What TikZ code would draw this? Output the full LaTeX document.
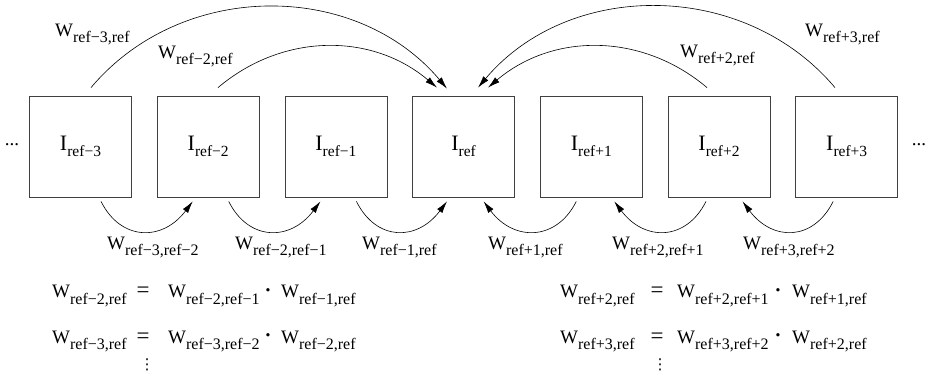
\documentclass[tikz,border=0pt]{standalone}
\usepackage{fontspec}
\setmainfont{Liberation Serif}
\newfontfamily\symfont{DejaVu Sans}
\usetikzlibrary{arrows.meta,calc}

% weight and image symbols with lowered subscripts
\newcommand\Wt[1]{W\raisebox{-6pt}{\fontsize{16}{16}\selectfont #1}}
\newcommand\It[1]{I\raisebox{-5.5pt}{\fontsize{15.5}{16}\selectfont #1}}

\begin{document}
\begin{tikzpicture}[x=1pt,y=-1pt,
  frame/.style={draw=black!75, line width=0.8pt, minimum width=102pt,
    minimum height=101pt, inner sep=0pt, font=\fontsize{22}{24}\selectfont},
  lbl/.style={inner sep=0pt, anchor=base west, font=\fontsize{19}{22}\selectfont},
  sym/.style={inner sep=0pt, anchor=base, font=\fontsize{19}{22}\selectfont},
  eqsign/.style={inner sep=0pt, anchor=base, font=\fontsize{23}{24}\selectfont},
  times/.style={inner sep=0pt, anchor=base, font=\fontsize{28}{28}\selectfont},
  cont/.style={inner sep=0pt, font=\symfont\fontsize{15}{15}\selectfont},
  link/.style={draw, line width=0.6pt, -{Latex[length=12pt,width=6.5pt]}}]

\useasboundingbox (0,0) rectangle (930,377);

% image frames
\node[frame] (b1) at (80.5,146.5)  {\It{ref−3}};
\node[frame] (b2) at (208.2,146.5) {\It{ref−2}};
\node[frame] (b3) at (335.9,146.5) {\It{ref−1}};
\node[frame] (b4) at (463.6,146.5) {\It{ref}};
\node[frame] (b5) at (591.3,146.5) {\It{ref+1}};
\node[frame] (b6) at (719,146.5)   {\It{ref+2}};
\node[frame] (b7) at (846.7,146.5) {\It{ref+3}};

\node[sym] (dl) at (12,146)  {...};
\node[sym] (dr) at (919,146) {...};

% long-range links to the reference frame
\draw[link] ($(b1.north)+(10.5,-8)$) .. controls +(91,-108) and +(-91,-108) .. ($(b4.north)+(-16.6,-7)$);
\draw[link] ($(b2.north)+(9.8,-8)$) .. controls +(65,-55) and +(-65,-55) .. ($(b4.north)+(-26.6,-8)$);
\draw[link] ($(b7.north)+(-11.7,-8)$) .. controls +(-91,-108) and +(91,-108) .. ($(b4.north)+(14.4,-8)$);
\draw[link] ($(b6.north)+(-12,-8)$) .. controls +(-65,-55) and +(65,-55) .. ($(b4.north)+(24.4,-8)$);

\node[lbl] (t1) at (55,37)  {\Wt{ref−3,ref}};
\node[lbl] (t2) at (158,59) {\Wt{ref−2,ref}};
\node[lbl] (t3) at (680,58) {\Wt{ref+2,ref}};
\node[lbl] (t4) at (805,37) {\Wt{ref+3,ref}};

% neighbour links
\draw[link] ($(b1.south)+(20.5,4)$) .. controls +(20,40) and +(-30,40) .. ($(b2.south)+(-15.5,4)$);
\draw[link] ($(b2.south)+(20.5,4)$) .. controls +(20,40) and +(-30,40) .. ($(b3.south)+(-15.5,4)$);
\draw[link] ($(b3.south)+(20.5,4)$) .. controls +(20,40) and +(-30,40) .. ($(b4.south)+(-16.6,4)$);
\draw[link] ($(b5.south)+(-15,4)$) .. controls +(-20,40) and +(30,40) .. ($(b4.south)+(20,4)$);
\draw[link] ($(b6.south)+(-13,4)$) .. controls +(-20,40) and +(30,40) .. ($(b5.south)+(23,4)$);
\draw[link] ($(b7.south)+(-13.5,4)$) .. controls +(-20,40) and +(30,40) .. ($(b6.south)+(23.5,4)$);

\node[lbl] (n1) at (107,249) {\Wt{ref−3,ref−2}};
\node[lbl] (n2) at (235,249) {\Wt{ref−2,ref−1}};
\node[lbl] (n3) at (362,249) {\Wt{ref−1,ref}};
\node[lbl] (n4) at (488,249) {\Wt{ref+1,ref}};
\node[lbl] (n5) at (612,249) {\Wt{ref+2,ref+1}};
\node[lbl] (n6) at (743,249) {\Wt{ref+3,ref+2}};

% chained products, left side
\node[lbl] (la1) at (52,298)  {\Wt{ref−2,ref}};
\node[eqsign] (le1) at (143,298) {=};
\node[lbl] (lb1) at (168,298) {\Wt{ref−2,ref−1}};
\node[times] (ld1) at (268,299) {·};
\node[lbl] (lc1) at (281,298) {\Wt{ref−1,ref}};
\node[lbl] (la2) at (52,343)  {\Wt{ref−3,ref}};
\node[eqsign] (le2) at (143,343) {=};
\node[lbl] (lb2) at (168,343) {\Wt{ref−3,ref−2}};
\node[times] (ld2) at (268,344) {·};
\node[lbl] (lc2) at (281,343) {\Wt{ref−2,ref}};
\node[cont] (lv) at (147,365) {⋮};

% chained products, right side
\node[lbl] (ra1) at (560,298) {\Wt{ref+2,ref}};
\node[eqsign] (re1) at (657,298) {=};
\node[lbl] (rb1) at (677,298) {\Wt{ref+2,ref+1}};
\node[times] (rd1) at (778,299) {·};
\node[lbl] (rc1) at (792,298) {\Wt{ref+1,ref}};
\node[lbl] (ra2) at (560,343) {\Wt{ref+3,ref}};
\node[eqsign] (re2) at (657,343) {=};
\node[lbl] (rb2) at (677,343) {\Wt{ref+3,ref+2}};
\node[times] (rd2) at (778,344) {·};
\node[lbl] (rc2) at (792,343) {\Wt{ref+2,ref}};
\node[cont] (rv) at (660,365) {⋮};
\end{tikzpicture}
\end{document}
